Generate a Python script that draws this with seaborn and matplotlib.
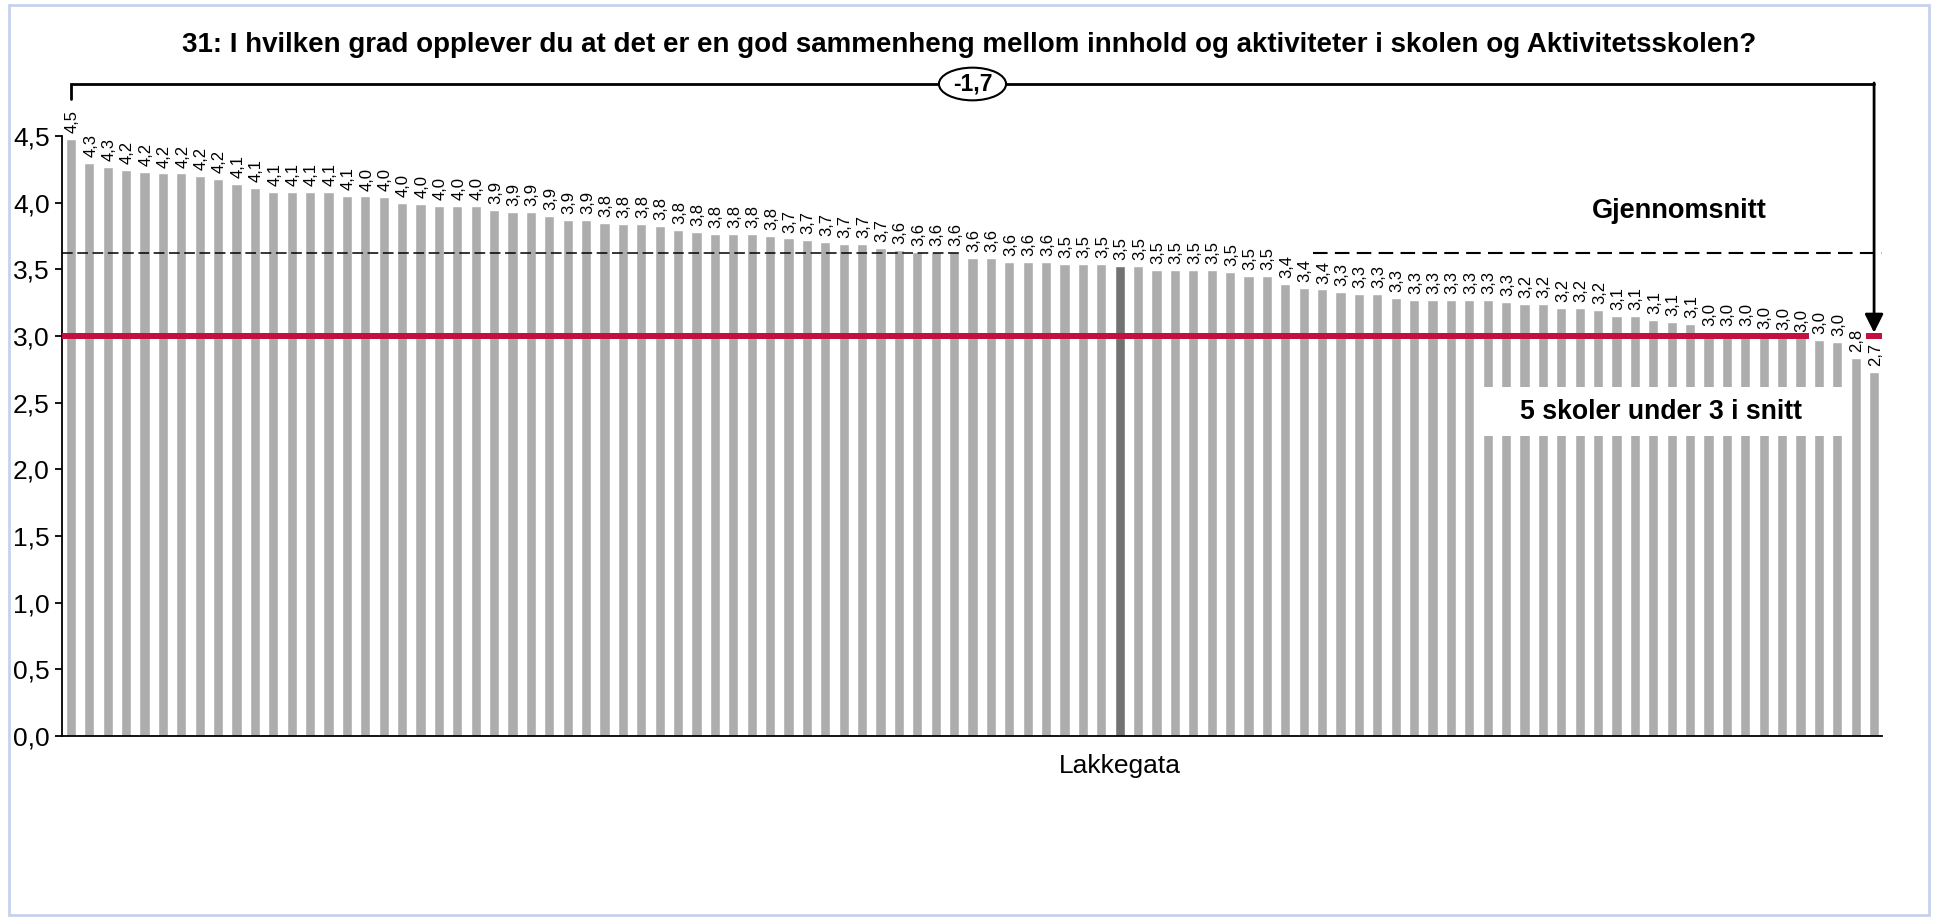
import pandas as pd
import matplotlib.pyplot as plt
import matplotlib.patches as mpatches
import numpy as np
import seaborn as sns

## Data
snitt = [4.48, 4.30, 4.27, 4.246, 4.23, 4.22, 4.22, 4.20, 4.18, 4.14,
         4.11, 4.08, 4.08, 4.08, 4.08, 4.051, 4.049, 4.045, 4.00, 3.99,
         3.975, 3.975, 3.975, 3.945, 3.93, 3.93, 3.90, 3.87, 3.87, 3.849,
         3.84, 3.84, 3.825, 3.795, 3.78, 3.765, 3.765, 3.765, 3.752, 3.734,
         3.72, 3.705, 3.69, 3.69, 3.66, 3.645, 3.63, 3.63, 3.63, 3.585,
         3.585, 3.555, 3.555, 3.555, 3.54, 3.54, 3.54, 3.525, 3.525, 3.495,
         3.495, 3.495, 3.495, 3.48, 3.452, 3.452, 3.39, 3.36, 3.351, 3.33,
         3.316, 3.316, 3.286, 3.27, 3.27, 3.27, 3.27, 3.27, 3.256, 3.24,
         3.24, 3.21, 3.21, 3.196, 3.15, 3.15, 3.12, 3.106, 3.09, 3.03,
         3.03, 3.03, 3.01, 3.00, 2.99, 2.97, 2.957, 2.837, 2.73]
skole_valgt = "Lakkegata"
idx_valgt = 57
skoler = ["Skole %d" % (i + 1) for i in range(len(snitt))]
skoler[idx_valgt] = skole_valgt

gjennomsnitt = 3.626
grense = 3.0
ytick_verdier = [0.0, 0.5, 1.0, 1.5, 2.0, 2.5, 3.0, 3.5, 4.0, 4.5]
ytick_tekst = ["0,0", "0,5", "1,0", "1,5", "2,0", "2,5", "3,0", "3,5", "4,0", "4,5"]

tittel = "31: I hvilken grad opplever du at det er en god sammenheng mellom innhold og aktiviteter i skolen og Aktivitetsskolen?"
diff_tekst = "-1,7"
snitt_tekst = "Gjennomsnitt"
under_tekst = "5 skoler under 3 i snitt"

df = pd.DataFrame({"skole": skoler, "snitt": snitt})
farger = {s: "#ADADAD" for s in skoler}
farger[skole_valgt] = "#737373"

#%%
## Plot
sns.set_style("white")
plt.rcParams["font.family"] = ["Liberation Sans", "DejaVu Sans"]
plt.rcParams["text.color"] = "black"
plt.rcParams["xtick.color"] = "black"
plt.rcParams["ytick.color"] = "black"

fig = plt.figure(figsize=(19.39, 9.19), dpi=100)
ax = fig.add_axes([0.032, 0.199, 0.9385, 0.653])

sns.barplot(data=df, x="skole", y="snitt", hue="skole", palette=farger,
            legend=False, width=0.55, saturation=1, ax=ax, zorder=2)

n = len(snitt)
ax.set_xlim(-0.48, n - 1 + 0.42)
ax.set_ylim(0, 4.5)

# verdietiketter over stolpene
for i, v in enumerate(snitt):
    ax.annotate(("%.1f" % v).replace(".", ","), (i, v), xytext=(1, 4),
                textcoords="offset points", rotation=90, ha="center",
                va="bottom", fontsize=12, annotation_clip=False)

# gjennomsnitt (stiplet) og grense 3
ax.plot([-0.48, 48.41], [gjennomsnitt, gjennomsnitt], color="black",
        lw=1.1, ls=(0, (7, 3)), zorder=3, clip_on=False)
ax.plot([67.48, n - 1 + 0.42], [gjennomsnitt, gjennomsnitt], color="black",
        lw=1.5, ls=(0, (7, 3.5)), zorder=3, clip_on=False)
ax.hlines(grense, -0.48, 94.45, color="#C3103F", lw=4.3, zorder=4)
ax.hlines(grense, 97.57, n - 1 + 0.42, color="#C3103F", lw=4.3, zorder=4,
          clip_on=False)

ax.text(87.4, 3.935, snitt_tekst, ha="center", va="center", fontsize=19.5,
        fontweight="bold")

# hvit boks
ax.add_patch(mpatches.Rectangle((76.27, 2.252), 20.32, 0.366, fc="white",
                                ec="none", zorder=5))
ax.text(86.43, 2.43, under_tekst, ha="center", va="center", fontsize=19.2,
        fontweight="bold", zorder=6)

# klamme fra høyeste til laveste
y_top = 4.89
ax.plot([0, 0, n - 1], [4.78, y_top, y_top], color="black", lw=2,
        clip_on=False, zorder=6, solid_joinstyle="miter")
ax.annotate("", xy=(n - 1, 3.025), xytext=(n - 1, y_top + 0.008),
            arrowprops=dict(arrowstyle="-|>", color="black", lw=2,
                            mutation_scale=28, shrinkA=0, shrinkB=0),
            annotation_clip=False, zorder=6)
ax.add_patch(mpatches.Ellipse(((n - 1) / 2, y_top), 3.65, 0.245, fc="white",
                              ec="black", lw=1.5, clip_on=False, zorder=7))
ax.text((n - 1) / 2, y_top, diff_tekst, ha="center", va="center",
        fontsize=16.5, fontweight="bold", zorder=8, clip_on=False)

# akser
ax.set_yticks(ytick_verdier)
ax.set_yticklabels(ytick_tekst, fontsize=19)
ax.set_xticks([idx_valgt])
ax.set_xticklabels([skole_valgt], fontsize=19)
ax.tick_params(axis="y", direction="out", length=5, width=1.3, left=True, pad=4)
ax.tick_params(axis="x", length=0, pad=13)
ax.set_xlabel("")
ax.set_ylabel("")
sns.despine(ax=ax, top=True, right=True)
for s in ["left", "bottom"]:
    ax.spines[s].set_color("black")
    ax.spines[s].set_linewidth(1.3)

fig.text(0.5, 0.951, tittel, ha="center", va="center", fontsize=20,
         fontweight="bold")

# ramme rundt
fig.add_artist(mpatches.Rectangle((9 / 1939, 4 / 919), 1920 / 1939, 910 / 919,
                                  transform=fig.transFigure, fill=False,
                                  ec="#C7D1EC", lw=2))

plt.savefig("out.png", dpi=100)
